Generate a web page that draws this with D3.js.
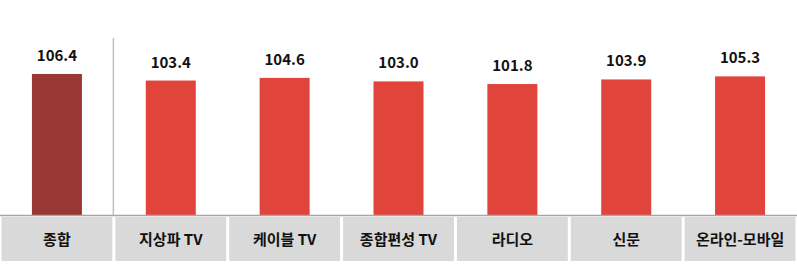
<!DOCTYPE html>
<html>
<head>
<meta charset="utf-8">
<script src="https://cdn.jsdelivr.net/npm/d3@7"></script>
<style>
  body { margin: 0; background: #fff; }
  svg { display: block; font-family: "Noto Sans CJK KR", "Noto Sans", sans-serif; }
</style>
</head>
<body>
<div id="chart"></div>
<script>
// data
var categories = ["종합", "지상파 TV", "케이블 TV", "종합편성 TV", "라디오", "신문", "온라인-모바일"];
var values = [106.4, 103.4, 104.6, 103.0, 101.8, 103.9, 105.3];

var width = 797, height = 264;
var baseY = 215;

var svg = d3.select("#chart")
  .append("svg")
    .attr("width", width)
    .attr("height", height);

// X scale, one band per category
var x = d3.scaleBand()
  .domain(categories)
  .range([0, width]);

// Y scale (axis does not start at zero)
var y = d3.scaleLinear()
  .domain([42, 120])
  .range([baseY, baseY - 78 * 2.19]);

// category cells
svg.selectAll("rect.cell")
  .data(categories)
  .enter()
  .append("rect")
    .attr("class", "cell")
    .attr("x", function(d) { return x(d) + 1.5; })
    .attr("y", 217)
    .attr("width", x.bandwidth() - 3)
    .attr("height", 44)
    .attr("fill", "#D9D9D9");

svg.selectAll("text.cat")
  .data(categories)
  .enter()
  .append("text")
    .attr("class", "cat")
    .attr("x", function(d) { return x(d) + x.bandwidth() / 2; })
    .attr("y", 244.5)
    .attr("text-anchor", "middle")
    .attr("font-size", "15px")
    .attr("font-weight", "bold")
    .attr("fill", "#111")
    .text(function(d) { return d; });

// bars
svg.selectAll("rect.bar")
  .data(values)
  .enter()
  .append("rect")
    .attr("class", "bar")
    .attr("x", function(d, i) { return x(categories[i]) + x.bandwidth() / 2 - 25; })
    .attr("width", 50)
    .attr("y", function(d) { return y(d); })
    .attr("height", function(d) { return baseY - y(d); })
    .attr("fill", function(d, i) { return i === 0 ? "#993735" : "#E0443B"; });

// value labels
svg.selectAll("text.val")
  .data(values)
  .enter()
  .append("text")
    .attr("class", "val")
    .attr("x", function(d, i) { return x(categories[i]) + x.bandwidth() / 2; })
    .attr("y", function(d) { return y(d) - 13; })
    .attr("text-anchor", "middle")
    .attr("font-size", "15px")
    .attr("font-weight", "bold")
    .attr("fill", "#111")
    .text(function(d) { return d.toFixed(1); });

// separator after the total
svg.append("line")
  .attr("x1", x(categories[1]) - 0.5)
  .attr("x2", x(categories[1]) - 0.5)
  .attr("y1", 38)
  .attr("y2", baseY)
  .attr("stroke", "#BFBFBF")
  .attr("stroke-width", 1.5);

// baseline
svg.append("line")
  .attr("x1", 0)
  .attr("x2", width)
  .attr("y1", baseY + 0.5)
  .attr("y2", baseY + 0.5)
  .attr("stroke", "#A6A6A6")
  .attr("stroke-width", 1.5);
</script>
</body>
</html>
